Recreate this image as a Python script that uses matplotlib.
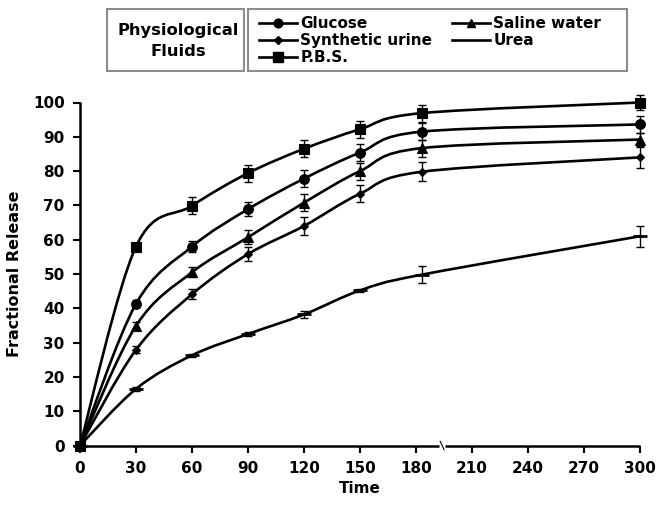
import numpy as np
import matplotlib
matplotlib.use("Agg")
import matplotlib.pyplot as plt
from matplotlib.path import Path
from matplotlib.patches import PathPatch, Rectangle
from matplotlib.lines import Line2D

plt.rcParams['font.family'] = ['DejaVu Sans']
plt.rcParams['font.weight'] = 'bold'

# Sampling times (min)
time = [0, 30, 60, 90, 120, 150, 183, 300]

# Fractional release per fluid
pbs = [0, 58.0, 69.9, 79.4, 86.5, 92.2, 96.9, 100.0]
glucose = [0, 41.3, 58.0, 68.9, 77.8, 85.4, 91.5, 93.6]
saline = [0, 34.9, 50.5, 60.7, 70.8, 80.0, 86.7, 89.2]
synthetic_urine = [0, 27.9, 44.1, 55.8, 64.0, 73.4, 79.8, 84.0]
urea = [0, 16.5, 26.3, 32.5, 38.2, 45.2, 49.8, 61.0]

# Standard deviations
pbs_err = [0, 1.0, 2.5, 2.5, 2.5, 2.5, 2.5, 2.2]
glucose_err = [0, 1.0, 1.5, 2.0, 2.5, 2.5, 2.5, 2.5]
saline_err = [0, 1.0, 1.5, 2.0, 2.5, 2.5, 2.5, 2.0]
synthetic_urine_err = [0, 1.0, 1.5, 2.0, 2.5, 2.5, 2.8, 3.0]
urea_err = [0, 0.5, 0.5, 0.5, 1.0, 0.5, 2.5, 3.0]

x_ticks = [0, 30, 60, 90, 120, 150, 180, 210, 240, 270, 300]
y_ticks = [0, 10, 20, 30, 40, 50, 60, 70, 80, 90, 100]

series = [
    ("Glucose", glucose, glucose_err, "o", 7),
    ("Synthetic urine", synthetic_urine, synthetic_urine_err, "D", 4.5),
    ("P.B.S.", pbs, pbs_err, "s", 7.5),
    ("Saline water", saline, saline_err, "^", 7),
    ("Urea", urea, urea_err, "_", 10),
]


def smooth_path(xs, ys):
    """Catmull-Rom curve through the points, expressed as cubic Bezier segments."""
    pts = np.column_stack([xs, ys]).astype(float)
    n = len(pts)
    verts = [pts[0]]
    codes = [Path.MOVETO]
    for i in range(n - 1):
        p0 = pts[i - 1] if i > 0 else pts[i]
        p1 = pts[i]
        p2 = pts[i + 1]
        p3 = pts[i + 2] if i + 2 < n else pts[i + 1]
        c1 = p1 + (p2 - p0) / 6.0
        c2 = p2 - (p3 - p1) / 6.0
        verts += [c1, c2, p2]
        codes += [Path.CURVE4] * 3
    return Path(verts, codes)


W, H = 656, 505
fig = plt.figure(figsize=(W / 100, H / 100), dpi=100)
ax = fig.add_axes([80 / W, 1 - 445.5 / H, 560 / W, 343 / H])

handles = []
for name, vals, err, mk, ms in series:
    ax.add_patch(PathPatch(smooth_path(time, vals), facecolor="none",
                           edgecolor="black", lw=1.9, clip_on=False, zorder=3))
    ax.errorbar(time, vals, yerr=err, fmt="none", ecolor="black",
                elinewidth=1.0, capsize=3, capthick=1.0, clip_on=False, zorder=3)
    ax.plot(time, vals, linestyle="none", marker=mk, markersize=ms,
            color="black", markeredgewidth=2 if mk == "_" else 0.8,
            clip_on=False, zorder=4)
    h = Line2D([], [], color="black", lw=1.9,
               marker=None if mk == "_" else mk,
               markersize=ms * 0.9)
    handles.append((h, name))

ax.set_xlim(0, 300)
ax.set_ylim(0, 100)
ax.set_xticks(x_ticks)
ax.set_yticks(y_ticks)
ax.tick_params(direction="out", length=5, width=1.5, labelsize=11, pad=6)
for lab in ax.get_xticklabels() + ax.get_yticklabels():
    lab.set_fontweight("bold")
for s in ("top", "right", "bottom"):
    ax.spines[s].set_visible(False)
ax.spines["left"].set_linewidth(1.8)

# Broken time axis
trans = ax.get_xaxis_transform()
ax.plot([0, 192.5], [0, 0], color="black", lw=1.8, transform=trans,
        clip_on=False, solid_capstyle="butt")
ax.plot([195.5, 300], [0, 0], color="black", lw=1.8, transform=trans,
        clip_on=False, solid_capstyle="butt")
ax.plot([193.0, 195.0], [0.012, -0.012], color="black", lw=0.8,
        transform=trans, clip_on=False)

ax.set_xlabel("Time", fontsize=11, fontweight="bold", labelpad=4)
ax.set_ylabel("Fractional Release", fontsize=11.5, fontweight="bold", labelpad=8)

# Legend with a separate caption box
for x0, x1 in ((107, 244), (248, 627)):
    fig.patches.append(Rectangle((x0 / W, 1 - 71 / H), (x1 - x0) / W, 62 / H,
                                 transform=fig.transFigure, facecolor="white",
                                 edgecolor="#8c8c8c", lw=1.5))
fig.text(178 / W, 1 - 41 / H, "Physiological\nFluids", ha="center",
         va="center", fontsize=11.8, fontweight="bold", linespacing=1.5)

leg = fig.legend([h for h, _ in handles], [n for _, n in handles],
                 ncol=2, loc="upper left",
                 bbox_to_anchor=(259 / W, 1 - 16.5 / H),
                 frameon=False, handlelength=2.5,
                 handletextpad=0.2, labelspacing=0.12, borderaxespad=0,
                 borderpad=0, columnspacing=1.3,
                 prop={"weight": "bold", "size": 11})

fig.savefig("out.png", dpi=100)
